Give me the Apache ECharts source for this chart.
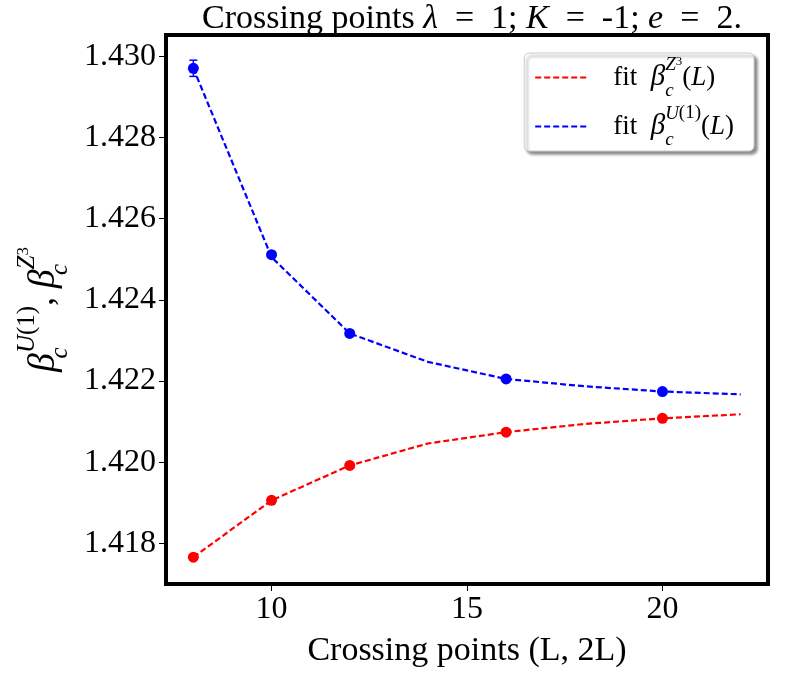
<!DOCTYPE html>
<html>
<head>
<meta charset="utf-8">
<script src="https://cdn.jsdelivr.net/npm/echarts@6/dist/echarts.min.js"></script>
<style>
  html, body { margin: 0; padding: 0; background: #fff; }
  #chart { width: 800px; height: 700px; }
</style>
</head>
<body>
<div id="chart"></div>
<script>
// ticks
var xTicks = [10, 15, 20];
var yTicks = [1.418, 1.420, 1.422, 1.424, 1.426, 1.428, 1.430];

// crossing points (L)
var sizesL = [8, 10, 12, 16, 20];
var betaU1 = [1.4297, 1.42511, 1.42317, 1.42205, 1.42174];
var betaU1Err = [0.0002, 0.00006, 0.00003, 0.00002, 0.00002];
var betaZ3 = [1.41766, 1.41906, 1.41992, 1.42074, 1.42108];
var betaZ3Err = [0.00002, 0.00002, 0.00002, 0.00002, 0.00002];

// fit curves
var fitL = [8, 10, 12, 14, 16, 18, 20, 22];
var fitU1 = [1.4297, 1.42505, 1.42317, 1.42247, 1.42205, 1.42187, 1.42174, 1.42167];
var fitZ3 = [1.41766, 1.41906, 1.41992, 1.42046, 1.42074, 1.42094, 1.42108, 1.42118];

var serif = 'Liberation Serif';
var chart = echarts.init(document.getElementById('chart'));

function pairs(xs, ys) {
  return xs.map(function (x, i) { return [x, ys[i]]; });
}
function triples(xs, ys, es) {
  return xs.map(function (x, i) { return [x, ys[i], es[i]]; });
}

function errorBars(color) {
  return function (params, api) {
    var x = api.value(0), y = api.value(1), e = api.value(2);
    var top = api.coord([x, y + e]);
    var bot = api.coord([x, y - e]);
    var cap = 4;
    var st = { stroke: color, lineWidth: 1.5 };
    return {
      type: 'group',
      children: [
        { type: 'line', shape: { x1: top[0], y1: top[1], x2: bot[0], y2: bot[1] }, style: st },
        { type: 'line', shape: { x1: top[0] - cap, y1: top[1], x2: top[0] + cap, y2: top[1] }, style: st },
        { type: 'line', shape: { x1: bot[0] - cap, y1: bot[1], x2: bot[0] + cap, y2: bot[1] }, style: st }
      ]
    };
  };
}

// rich styles for math-like text; k scales the sizes
function mathRich(k) {
  function s(n) { return Math.round(n * k); }
  return {
    t: { fontFamily: serif, fontSize: s(24), color: '#000', lineHeight: s(40) },
    b: { fontFamily: serif, fontStyle: 'italic', fontSize: s(26), color: '#000', lineHeight: s(40) },
    i: { fontFamily: serif, fontStyle: 'italic', fontSize: s(24), color: '#000', lineHeight: s(40) },
    sub: { fontFamily: serif, fontStyle: 'italic', fontSize: s(17), color: '#000', lineHeight: s(14), verticalAlign: 'bottom', width: 0 },
    sup: { fontFamily: serif, fontStyle: 'italic', fontSize: s(17), color: '#000', lineHeight: s(16), verticalAlign: 'top' },
    sup3: { fontFamily: serif, fontSize: s(12), color: '#000', lineHeight: s(24), verticalAlign: 'top' },
    supn: { fontFamily: serif, fontSize: s(17), color: '#000', lineHeight: s(16), verticalAlign: 'top' }
  };
}

var legendText = {
  'fit Z3': '{t|fit  }{b|β}{sub|c}{sup|Z}{sup3|3}{t|(}{i|L}{t|)}',
  'fit U1': '{t|fit  }{b|β}{sub|c}{sup|U}{supn|(1)}{t|(}{i|L}{t|)}'
};

chart.setOption({
  animation: false,
  title: {
    text: '{t|Crossing points }{i|λ}{t|  =  1; }{i|K}{t|  =  -1; }{i|e}{t|  =  2.}',
    left: 467,
    top: -3,
    textAlign: 'center',
    textStyle: {
      rich: {
        t: { fontFamily: serif, fontWeight: 'normal', fontSize: 34, color: '#000' },
        i: { fontFamily: serif, fontWeight: 'normal', fontStyle: 'italic', fontSize: 34, color: '#000' }
      }
    }
  },
  grid: {
    left: 166, right: 32, top: 35, bottom: 116,
    show: true,
    borderColor: '#000',
    borderWidth: 4,
    backgroundColor: '#fff'
  },
  legend: {
    data: ['fit Z3', 'fit U1'],
    orient: 'vertical',
    right: 46,
    top: 53,
    itemWidth: 53,
    itemHeight: 14,
    itemGap: 4,
    padding: [2, 20, 2, 10],
    backgroundColor: '#fff',
    borderColor: '#ccc',
    borderWidth: 1,
    borderRadius: 5,
    shadowColor: 'rgba(0,0,0,0.45)',
    shadowBlur: 3,
    shadowOffsetX: 3,
    shadowOffsetY: 3,
    itemStyle: { opacity: 0 },
    formatter: function (name) { return legendText[name]; },
    textStyle: { rich: mathRich(1.12), padding: [0, 0, 0, 20] }
  },
  xAxis: {
    type: 'value',
    min: 7.3,
    max: 22.7,
    axisLine: { show: false },
    splitLine: { show: false },
    axisTick: { show: true, length: 7, customValues: xTicks, lineStyle: { color: '#000', width: 1 } },
    axisLabel: { customValues: xTicks, color: '#000', fontFamily: serif, fontSize: 32, margin: 10 },
    name: 'Crossing points (L, 2L)',
    nameLocation: 'middle',
    nameGap: 50,
    nameTextStyle: { color: '#000', fontFamily: serif, fontSize: 34 }
  },
  yAxis: {
    type: 'value',
    min: 1.41700,
    max: 1.43052,
    axisLine: { show: false },
    splitLine: { show: false },
    axisTick: { show: true, length: 7, customValues: yTicks, lineStyle: { color: '#000', width: 1 } },
    axisLabel: {
      customValues: yTicks, color: '#000', fontFamily: serif, fontSize: 32, margin: 10,
      formatter: function (v) { return v.toFixed(3); }
    },
    name: '{b|β}{sub|c}{sup|U}{supn|(1)}{t|, }{b|β}{sub|c}{sup|Z}{sup3|3}',
    nameLocation: 'middle',
    nameRotate: 90,
    nameGap: 66,
    nameTextStyle: { rich: mathRich(1.45) }
  },
  series: [
    {
      name: 'fit Z3', type: 'line', data: pairs(fitL, fitZ3), symbol: 'none',
      color: '#ff0000', lineStyle: { color: '#ff0000', width: 2.2, type: [6, 3] }, z: 2
    },
    {
      name: 'fit U1', type: 'line', data: pairs(fitL, fitU1), symbol: 'none',
      color: '#0000ff', lineStyle: { color: '#0000ff', width: 2.2, type: [6, 3] }, z: 2
    },
    {
      name: 'err Z3', type: 'custom', data: triples(sizesL, betaZ3, betaZ3Err),
      renderItem: errorBars('#ff0000'), z: 3
    },
    {
      name: 'err U1', type: 'custom', data: triples(sizesL, betaU1, betaU1Err),
      renderItem: errorBars('#0000ff'), z: 3
    },
    {
      name: 'Z3', type: 'scatter', data: pairs(sizesL, betaZ3), symbolSize: 11,
      itemStyle: { color: '#ff0000', opacity: 1 }, z: 4
    },
    {
      name: 'U1', type: 'scatter', data: pairs(sizesL, betaU1), symbolSize: 11,
      itemStyle: { color: '#0000ff', opacity: 1 }, z: 4
    }
  ]
});
</script>
</body>
</html>
